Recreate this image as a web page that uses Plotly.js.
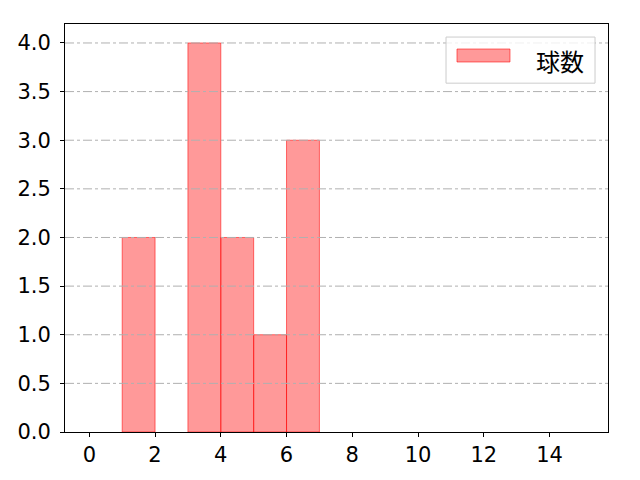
<!DOCTYPE html>
<html>
<head>
<meta charset="utf-8">
<script src="https://cdn.plot.ly/plotly-3.0.1.min.js"></script>
<style>
  html, body { margin: 0; padding: 0; background: #fff; }
  #chart { width: 640px; height: 480px; }
</style>
</head>
<body>
<div id="chart"></div>
<script>
// histogram bins (left edges) and counts
const binStarts = [1, 3, 4, 5, 6];
const counts = [2, 4, 2, 1, 3];
const seriesName = '球数';

const xTicks = [0, 2, 4, 6, 8, 10, 12, 14];
const yTicks = [0, 0.5, 1.0, 1.5, 2.0, 2.5, 3.0, 3.5, 4.0];

const TICK_FONT = 'DejaVu Sans, sans-serif';
const CJK_FONT = 'Noto Sans CJK JP, sans-serif';
const FILL = 'rgba(255,0,0,0.4)';
const EDGE = 'rgba(255,0,0,0.55)';

const bars = {
  type: 'bar',
  name: seriesName,
  x: binStarts,
  y: counts,
  width: 1,
  offset: 0,
  marker: { color: FILL, line: { color: EDGE, width: 1 } },
  showlegend: false
};

// grid lines drawn over the bars, like the original
const shapes = yTicks.slice(1).map(function (v) {
  return {
    type: 'line', xref: 'paper', yref: 'y', x0: 0, x1: 1, y0: v, y1: v,
    layer: 'above',
    line: { color: '#b0b0b0', width: 1, dash: 'dashdot' }
  };
});

// legend box (matplotlib style: wide patch, label on the right)
shapes.push({
  type: 'rect', xref: 'paper', yref: 'paper',
  x0: 0.7017, x1: 0.9761, y0: 0.855, y1: 0.968,
  layer: 'above', fillcolor: 'rgba(255,255,255,0.8)',
  line: { color: '#cccccc', width: 1 }
});
shapes.push({
  type: 'rect', xref: 'paper', yref: 'paper',
  x0: 0.7219, x1: 0.8195, y0: 0.9069, y1: 0.9387,
  layer: 'above', fillcolor: FILL,
  line: { color: EDGE, width: 1 }
});

const layout = {
  width: 640, height: 480,
  margin: { l: 65, r: 32, t: 24, b: 48 },
  paper_bgcolor: '#fff',
  plot_bgcolor: '#fff',
  font: { family: TICK_FONT, size: 21, color: '#000' },
  bargap: 0,
  showlegend: false,
  shapes: shapes,
  annotations: [{
    xref: 'paper', yref: 'paper', x: 0.959, y: 0.9115,
    xanchor: 'right', yanchor: 'middle',
    text: seriesName, showarrow: false,
    font: { family: CJK_FONT, size: 24, color: '#000' }
  }],
  xaxis: {
    range: [-0.74, 15.78],
    tickvals: xTicks,
    ticktext: xTicks.map(String),
    showgrid: false, zeroline: false,
    showline: true, mirror: true, linecolor: '#000', linewidth: 1,
    ticks: 'outside', ticklen: 4, tickcolor: '#000',
    ticklabelstandoff: 0,
    tickfont: { family: TICK_FONT, size: 21 }
  },
  yaxis: {
    range: [0, 4.195],
    tickvals: yTicks,
    ticktext: yTicks.map(function (v) { return v.toFixed(1); }),
    showgrid: false, zeroline: false,
    showline: true, mirror: true, linecolor: '#000', linewidth: 1,
    ticks: 'outside', ticklen: 4, tickcolor: '#000',
    ticklabelstandoff: 5,
    tickfont: { family: TICK_FONT, size: 21 }
  }
};

Plotly.newPlot('chart', [bars], layout, { displayModeBar: false, staticPlot: true });
</script>
</body>
</html>
